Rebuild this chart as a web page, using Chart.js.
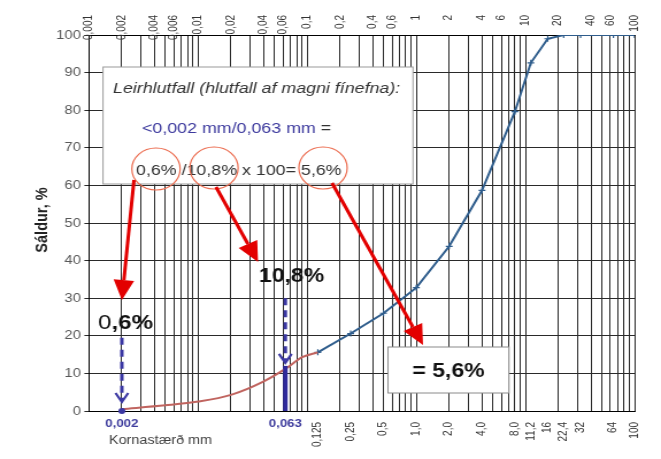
<!DOCTYPE html>
<html>
<head>
<meta charset="utf-8">
<script src="https://cdn.jsdelivr.net/npm/chart.js@4/dist/chart.umd.min.js"></script>
<style>
  html, body { margin: 0; padding: 0; background: #fff; }
</style>
</head>
<body>
<canvas id="chart" width="575" height="459" style="display:block;width:661px;height:459px"></canvas>
<script>
// grain size curve: sieve size (mm) and % passing
const fineSizes = [0.002, 0.005, 0.01, 0.02, 0.04, 0.063, 0.09, 0.125];
const finePassing = [0.5, 1.5, 2.5, 4.3, 7.9, 11.2, 14.3, 15.6];
const sieveSizes = [0.125, 0.25, 0.5, 1, 2, 4, 8, 11.2, 16, 22.4, 32, 64, 100];
const sievePassing = [15.6, 20.6, 26, 32.8, 43.8, 58.7, 79.6, 92.6, 99, 100, 100, 100, 100];

const bottomTicks = [0.002, 0.063, 0.125, 0.25, 0.5, 1, 2, 4, 8, 11.2, 16, 22.4, 32, 64, 100];
const bottomLabels = ['0,002', '0,063', '0,125', '0,25', '0,5', '1,0', '2,0', '4,0', '8,0', '11,2', '16', '22,4', '32', '64', '100'];
const topTicks = [0.001, 0.002, 0.004, 0.006, 0.01, 0.02, 0.04, 0.06, 0.1, 0.2, 0.4, 0.6, 1, 2, 4, 6, 10, 20, 40, 60, 100];
const topLabels = ['0,001', '0,002', '0,004', '0,006', '0,01', '0,02', '0,04', '0,06', '0,1', '0,2', '0,4', '0,6', '1', '2', '4', '6', '10', '20', '40', '60', '100'];

const clayText = '0,6%';
const finesText = '10,8%';
const resultText = '= 5,6%';

const FONT = '"Liberation Sans", Arial, sans-serif';
const STRETCH = 661 / 575;          // the picture is drawn a bit wider than it is tall
const px = v => v / STRETCH;

// log grid: 1..9 of every decade
const gridSizes = [];
for (let k = -3; k <= 1; k++) {
  for (let m = 1; m <= 9; m++) gridSizes.push(Number((m * Math.pow(10, k)).toPrecision(3)));
}
gridSizes.push(100);

function redArrow(ctx, x1, y1, x2, y2) {
  const a = Math.atan2(y2 - y1, x2 - x1);
  const len = 20, half = 9;
  const bx = x2 - len * Math.cos(a), by = y2 - len * Math.sin(a);
  ctx.save();
  ctx.strokeStyle = '#e30000';
  ctx.fillStyle = '#e30000';
  ctx.lineWidth = 3;
  ctx.beginPath();
  ctx.moveTo(x1, y1);
  ctx.lineTo(bx, by);
  ctx.stroke();
  ctx.beginPath();
  ctx.moveTo(x2, y2);
  ctx.lineTo(bx + half * Math.sin(a), by - half * Math.cos(a));
  ctx.lineTo(bx - half * Math.sin(a), by + half * Math.cos(a));
  ctx.closePath();
  ctx.fill();
  ctx.restore();
}

function dashedDown(ctx, x0, yTop, yTip) {
  ctx.save();
  ctx.strokeStyle = '#3b38a3';
  ctx.lineWidth = 3;
  ctx.setLineDash([7, 5]);
  ctx.beginPath();
  ctx.moveTo(x0, yTop);
  ctx.lineTo(x0, yTip - 2);
  ctx.stroke();
  ctx.setLineDash([]);
  ctx.lineWidth = 2.2;
  ctx.beginPath();
  ctx.moveTo(x0 - 5.5, yTip - 9);
  ctx.lineTo(x0, yTip);
  ctx.lineTo(x0 + 5.5, yTip - 9);
  ctx.stroke();
  ctx.restore();
}

const annotations = {
  id: 'annotations',
  afterDatasetsDraw(chart) {
    const { ctx, scales: { x, y } } = chart;
    const xClay = x.getPixelForValue(0.002);
    const xFines = x.getPixelForValue(0.063);

    // text box
    ctx.save();
    ctx.fillStyle = '#fff';
    ctx.strokeStyle = '#9a9a9a';
    ctx.lineWidth = 1;
    ctx.fillRect(px(103), 67, px(413) - px(103), 117);
    ctx.strokeRect(px(103), 67, px(413) - px(103), 117);

    ctx.textBaseline = 'alphabetic';
    ctx.textAlign = 'left';
    ctx.fillStyle = '#333';
    ctx.font = 'italic 15.5px ' + FONT;
    ctx.fillText('Leirhlutfall (hlutfall af magni fínefna):', px(113), 93);

    ctx.font = '15.5px ' + FONT;
    ctx.fillStyle = '#3d3a9e';
    const part = '<0,002 mm/0,063 mm';
    ctx.fillText(part, px(142), 133);
    ctx.fillStyle = '#333';
    ctx.fillText(' =', px(142) + ctx.measureText(part).width, 133);

    ctx.font = '15.5px ' + FONT;
    ctx.fillText(clayText + ' /' + finesText + ' x 100= ' + '5,6%', px(136), 175);

    // circles round the numbers
    ctx.strokeStyle = '#ec6b4e';
    ctx.lineWidth = 1.2;
    [[156, 169], [214, 168], [323, 168]].forEach(([cx, cy]) => {
      ctx.beginPath();
      ctx.arc(px(cx), cy, 21, 0, Math.PI * 2);
      ctx.stroke();
    });
    ctx.restore();

    // dashed blue arrows, bar and dot
    dashedDown(ctx, xClay, y.getPixelForValue(19.5), y.getPixelForValue(2.4));
    dashedDown(ctx, xFines, y.getPixelForValue(30), y.getPixelForValue(12.8));
    ctx.save();
    ctx.strokeStyle = '#2f2a9c';
    ctx.lineWidth = 4;
    ctx.beginPath();
    ctx.moveTo(xFines, y.getPixelForValue(12));
    ctx.lineTo(xFines, y.getPixelForValue(0));
    ctx.stroke();
    ctx.fillStyle = '#3b38a3';
    ctx.beginPath();
    ctx.arc(xClay, y.getPixelForValue(0), 3, 0, Math.PI * 2);
    ctx.fill();
    ctx.restore();

    // red arrows
    redArrow(ctx, px(134), 180, xClay, y.getPixelForValue(29.5));
    redArrow(ctx, px(216), 187, px(258), 262);
    redArrow(ctx, px(332), 183, px(423), 345);

    // big value labels
    ctx.save();
    ctx.fillStyle = '#111';
    ctx.textBaseline = 'alphabetic';
    ctx.textAlign = 'left';
    ctx.font = '21px ' + FONT;
    ctx.fillText('0', px(98), 329);
    const w0 = ctx.measureText('0').width;
    ctx.font = 'bold 21px ' + FONT;
    ctx.fillText(clayText.slice(1), px(98) + w0, 329);
    ctx.font = 'bold 20px ' + FONT;
    ctx.fillText(finesText, px(259), 282);

    // result box
    ctx.fillStyle = '#fff';
    ctx.strokeStyle = '#8a8a8a';
    ctx.lineWidth = 1;
    ctx.fillRect(px(388), 347, px(509) - px(388), 46);
    ctx.strokeRect(px(388), 347, px(509) - px(388), 46);
    ctx.fillStyle = '#111';
    ctx.textAlign = 'center';
    ctx.textBaseline = 'middle';
    ctx.font = 'bold 20px ' + FONT;
    ctx.fillText(resultText, px(448.5), 371);
    ctx.restore();
  },
  afterDraw(chart) {
    const { ctx, scales: { x, x2 } } = chart;
    ctx.save();
    // top labels, aligned to the top edge
    ctx.fillStyle = '#333';
    ctx.font = '10px ' + FONT;
    ctx.textAlign = 'right';
    ctx.textBaseline = 'middle';
    topTicks.forEach((v, i) => {
      ctx.save();
      ctx.translate(x2.getPixelForValue(v), 15);
      ctx.rotate(-Math.PI / 2);
      ctx.fillText(topLabels[i], 0, 0);
      ctx.restore();
    });

    // highlighted bottom labels
    ctx.fillStyle = '#3c3a9c';
    ctx.font = 'bold 11.5px ' + FONT;
    ctx.textAlign = 'center';
    ctx.textBaseline = 'middle';
    [0, 1].forEach(i => {
      ctx.fillText(bottomLabels[i], x.getPixelForValue(bottomTicks[i]), 424);
    });

    ctx.fillStyle = '#404040';
    ctx.font = '12.5px ' + FONT;
    ctx.textAlign = 'left';
    ctx.fillText('Kornastærð mm', px(109), 441);

    // y title
    ctx.fillStyle = '#222';
    ctx.font = 'bold 14.5px ' + FONT;
    ctx.textAlign = 'center';
    ctx.translate(px(42), 220);
    ctx.rotate(-Math.PI / 2);
    ctx.fillText('Sáldur, %', 0, 0);
    ctx.restore();
  }
};

new Chart(document.getElementById('chart'), {
  type: 'line',
  data: {
    datasets: [
      {
        data: fineSizes.map((s, i) => ({ x: s, y: finePassing[i] })),
        borderColor: '#c0645f',
        borderWidth: 2,
        pointRadius: 0,
        cubicInterpolationMode: 'monotone'
      },
      {
        data: sieveSizes.map((s, i) => ({ x: s, y: sievePassing[i] })),
        borderColor: '#2f5d8c',
        borderWidth: 2,
        pointStyle: 'cross',
        pointRadius: 3,
        pointBorderWidth: 1.2,
        pointBorderColor: '#2f5d8c',
        tension: 0
      }
    ]
  },
  options: {
    responsive: false,
    animation: false,
    devicePixelRatio: 1,
    layout: { padding: { left: 0, right: px(661 - 643), top: 0, bottom: 0 } },
    plugins: { legend: { display: false }, tooltip: { enabled: false } },
    scales: {
      x: {
        type: 'logarithmic',
        position: 'bottom',
        min: 0.001,
        max: 100,
        afterBuildTicks: s => { s.ticks = bottomTicks.map(v => ({ value: v })); },
        afterFit: s => { s.height = 48; },
        grid: { display: false, drawTicks: false },
        border: { display: true, color: '#000', width: 1 },
        ticks: {
          autoSkip: false,
          minRotation: 90,
          maxRotation: 90,
          padding: 11,
          color: '#333',
          font: { family: FONT, size: 10 },
          callback: v => {
            const i = bottomTicks.indexOf(v);
            return i < 2 ? '' : bottomLabels[i];
          }
        }
      },
      x2: {
        type: 'logarithmic',
        position: 'top',
        min: 0.001,
        max: 100,
        afterBuildTicks: s => { s.ticks = gridSizes.map(v => ({ value: v })); },
        afterFit: s => { s.height = 35; },
        grid: { color: '#2a2a2a', lineWidth: 1, drawTicks: false },
        border: { display: true, color: '#000', width: 1 },
        ticks: { display: false }
      },
      y: {
        min: 0,
        max: 100,
        afterFit: s => { s.width = px(89); },
        grid: { color: '#2a2a2a', lineWidth: 1, tickLength: 4 },
        border: { display: true, color: '#000', width: 1 },
        ticks: { stepSize: 10, padding: 3, color: '#595959', font: { family: FONT, size: 13 } }
      }
    }
  },
  plugins: [annotations]
});
</script>
</body>
</html>
